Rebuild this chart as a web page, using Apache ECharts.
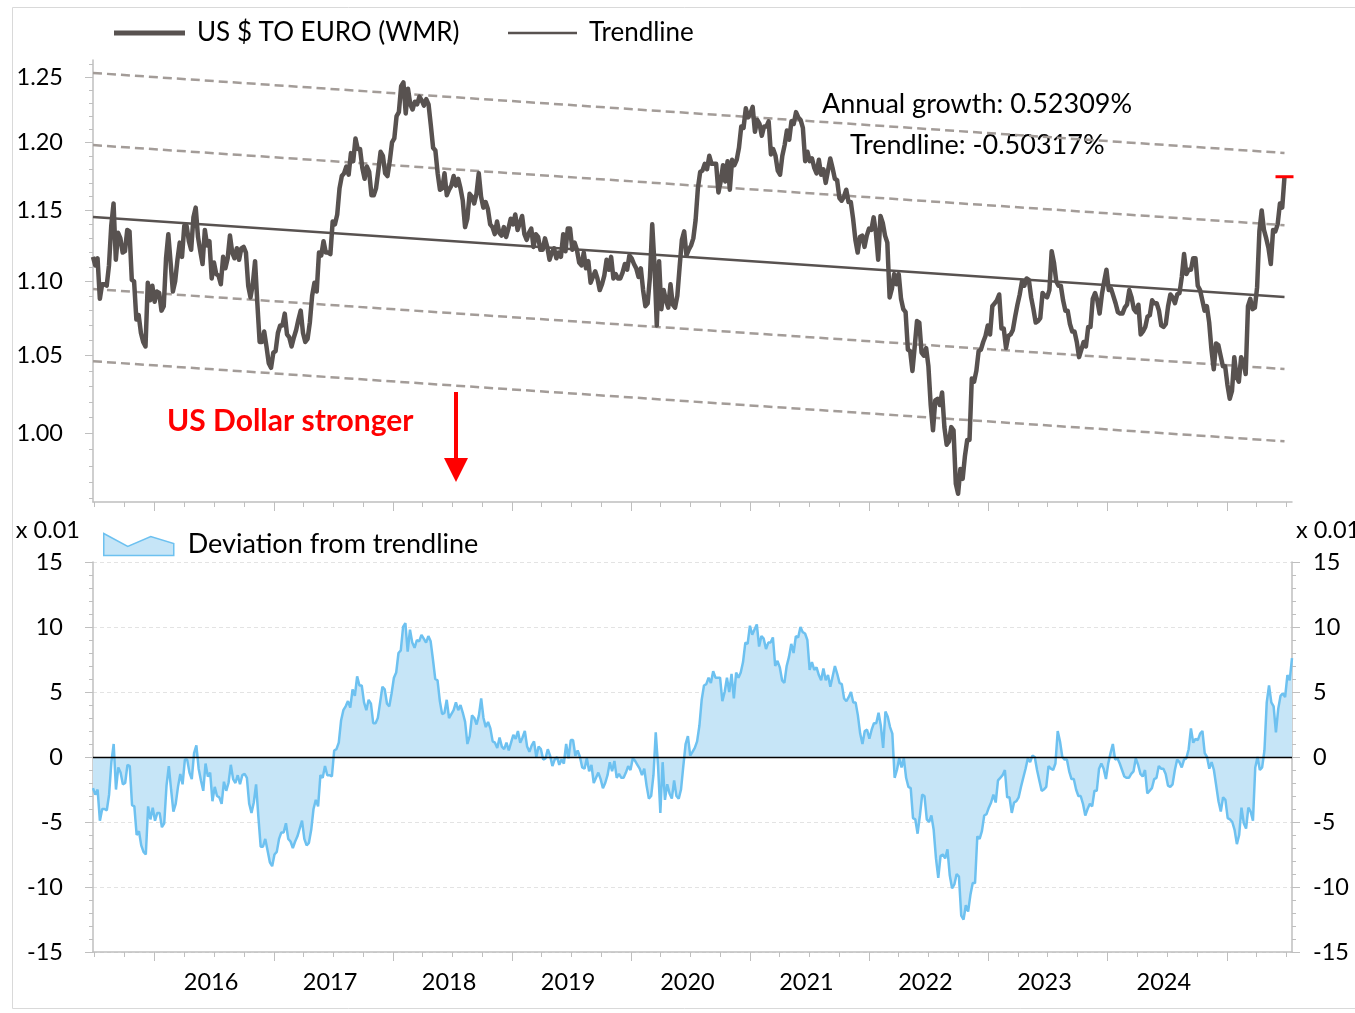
<!DOCTYPE html>
<html>
<head>
<meta charset="utf-8">
<title>US $ to Euro</title>
<script src="https://cdn.jsdelivr.net/npm/echarts@6/dist/echarts.min.js"></script>
<style>
  html, body { margin: 0; padding: 0; background: #fff; }
  #chart { width: 1355px; height: 1013px; }
</style>
</head>
<body>
<div id="chart"></div>
<script>
// weekly fixings, one array per year, first value on weekStart of that year
const weekStart = ['2015-06-26', '2016-01-01', '2017-01-06', '2018-01-05', '2019-01-04', '2020-01-03',
  '2021-01-01', '2022-01-07', '2023-01-06', '2024-01-05', '2025-01-03']

const usd2015 = [1.117, 1.111, 1.116, 1.088, 1.098, 1.098, 1.097, 1.111, 1.139, 1.155, 1.115, 1.134, 1.130, 1.120,
  1.121, 1.136, 1.135, 1.101, 1.100, 1.074, 1.077, 1.065, 1.059, 1.056, 1.099, 1.087, 1.097]
const usd2016 = [1.086, 1.093, 1.092, 1.080, 1.083, 1.116, 1.133, 1.113, 1.093, 1.100, 1.115, 1.127, 1.117,
  1.139, 1.139, 1.128, 1.122, 1.145, 1.152, 1.131, 1.121, 1.112, 1.136, 1.125, 1.128, 1.102,
  1.113, 1.105, 1.104, 1.098, 1.117, 1.109, 1.116, 1.132, 1.120, 1.116, 1.123, 1.115, 1.123, 1.124,
  1.120, 1.097, 1.089, 1.098, 1.114, 1.085, 1.059, 1.059, 1.066, 1.056, 1.045, 1.042, 1.052]
const usd2017 = [1.053, 1.065, 1.070, 1.070, 1.078, 1.064, 1.062, 1.056, 1.062, 1.067, 1.074, 1.080, 1.065,
  1.059, 1.061, 1.072, 1.090, 1.099, 1.093, 1.120, 1.118, 1.128, 1.120, 1.120, 1.119, 1.142,
  1.140, 1.147, 1.166, 1.175, 1.177, 1.182, 1.176, 1.192, 1.186, 1.203, 1.195, 1.195, 1.181,
  1.173, 1.182, 1.178, 1.161, 1.161, 1.166, 1.179, 1.193, 1.190, 1.177, 1.175, 1.186, 1.200]
const usd2018 = [1.203, 1.220, 1.223, 1.243, 1.246, 1.222, 1.241, 1.229, 1.225, 1.231, 1.229, 1.235, 1.232,
  1.228, 1.233, 1.229, 1.213, 1.196, 1.194, 1.177, 1.165, 1.166, 1.177, 1.161, 1.165, 1.168,
  1.175, 1.168, 1.173, 1.166, 1.157, 1.138, 1.144, 1.162, 1.160, 1.155, 1.162, 1.177, 1.160,
  1.152, 1.156, 1.151, 1.140, 1.138, 1.133, 1.142, 1.134, 1.132, 1.138, 1.131, 1.137, 1.144]
const usd2019 = [1.140, 1.147, 1.136, 1.141, 1.146, 1.133, 1.129, 1.134, 1.137, 1.124, 1.133, 1.131, 1.122,
  1.122, 1.130, 1.124, 1.115, 1.120, 1.123, 1.116, 1.120, 1.117, 1.133, 1.121, 1.137, 1.137,
  1.122, 1.127, 1.122, 1.113, 1.111, 1.120, 1.109, 1.114, 1.099, 1.103, 1.107, 1.102, 1.094,
  1.098, 1.104, 1.115, 1.108, 1.117, 1.102, 1.105, 1.102, 1.102, 1.106, 1.112, 1.108, 1.118]
const usd2020 = [1.116, 1.112, 1.109, 1.103, 1.109, 1.094, 1.083, 1.085, 1.103, 1.140, 1.111, 1.070, 1.114,
  1.081, 1.094, 1.087, 1.082, 1.098, 1.084, 1.082, 1.090, 1.110, 1.129, 1.135, 1.118, 1.122,
  1.125, 1.130, 1.143, 1.166, 1.178, 1.179, 1.184, 1.180, 1.190, 1.184, 1.184, 1.184, 1.163,
  1.171, 1.183, 1.171, 1.186, 1.165, 1.187, 1.183, 1.187, 1.196, 1.212, 1.211, 1.226, 1.219]
const usd2021 = [1.222, 1.227, 1.208, 1.217, 1.214, 1.205, 1.212, 1.212, 1.216, 1.191, 1.195, 1.190, 1.179,
  1.176, 1.190, 1.198, 1.209, 1.202, 1.216, 1.214, 1.223, 1.219, 1.217, 1.211, 1.186, 1.193,
  1.186, 1.188, 1.181, 1.177, 1.187, 1.176, 1.180, 1.170, 1.179, 1.188, 1.181, 1.173, 1.172,
  1.159, 1.157, 1.160, 1.165, 1.156, 1.156, 1.144, 1.129, 1.120, 1.131, 1.132, 1.124, 1.132, 1.137]
const usd2022 = [1.136, 1.145, 1.134, 1.115, 1.146, 1.141, 1.132, 1.127, 1.089, 1.095, 1.105, 1.098,
  1.105, 1.088, 1.081, 1.079, 1.054, 1.053, 1.040, 1.056, 1.073, 1.072, 1.052, 1.050, 1.055,
  1.043, 1.018, 1.002, 1.021, 1.022, 1.018, 1.026, 1.004, 0.993, 0.995, 1.004, 1.002, 0.969, 0.963,
  0.978, 0.972, 0.986, 0.996, 0.996, 1.035, 1.033, 1.040, 1.053, 1.054, 1.059, 1.063, 1.070]
const usd2023 = [1.064, 1.083, 1.085, 1.087, 1.091, 1.068, 1.068, 1.055, 1.063, 1.064, 1.067, 1.076, 1.084,
  1.091, 1.100, 1.097, 1.102, 1.101, 1.089, 1.081, 1.072, 1.073, 1.075, 1.092, 1.090, 1.089,
  1.094, 1.121, 1.113, 1.100, 1.097, 1.097, 1.087, 1.080, 1.080, 1.071, 1.066, 1.066, 1.059,
  1.049, 1.054, 1.059, 1.056, 1.069, 1.069, 1.088, 1.092, 1.087, 1.078, 1.091, 1.100, 1.108]
const usd2024 = [1.094, 1.095, 1.090, 1.085, 1.079, 1.078, 1.078, 1.082, 1.084, 1.094, 1.089, 1.081, 1.079,
  1.084, 1.064, 1.066, 1.069, 1.076, 1.077, 1.087, 1.085, 1.085, 1.080, 1.070, 1.069, 1.071,
  1.083, 1.091, 1.089, 1.085, 1.091, 1.092, 1.103, 1.119, 1.105, 1.108, 1.108, 1.116, 1.116,
  1.097, 1.094, 1.087, 1.080, 1.083, 1.072, 1.054, 1.041, 1.058, 1.057, 1.050, 1.043, 1.043]
const usd2025 = [1.031, 1.022, 1.027, 1.049, 1.036, 1.033, 1.049, 1.046, 1.038, 1.083, 1.088, 1.081, 1.082,
  1.096, 1.135, 1.150, 1.136, 1.130, 1.123, 1.112, 1.136, 1.135, 1.140, 1.155, 1.152, 1.1745]

// deviation from trendline (x 0.01); in the lower panel the weekly points span the whole axis
const dev2015 = [-2.4, -2.9, -2.5, -4.9, -4.0, -4.0, -4.1, -2.9, -0.4, 1.0, -2.5, -0.8, -1.2, -2.1,
  -2.0, -0.6, -0.7, -3.7, -3.8, -6.0, -5.7, -6.8, -7.3, -7.5, -3.8, -4.8, -3.9]
const dev2016 = [-4.9, -4.3, -4.3, -5.4, -5.1, -2.2, -0.7, -2.5, -4.2, -3.6, -2.3, -1.3, -2.1,
  -0.2, -0.2, -1.2, -1.7, 0.3, 0.9, -0.9, -1.8, -2.6, -0.5, -1.5, -1.2, -3.4,
  -2.3, -3.0, -3.1, -3.6, -1.9, -2.6, -2.0, -0.6, -1.7, -2.0, -1.4, -2.1, -1.4, -1.3,
  -1.6, -3.6, -4.3, -3.5, -2.1, -4.6, -6.9, -6.9, -6.3, -7.2, -8.1, -8.4, -7.5]
const dev2017 = [-7.3, -6.3, -5.8, -5.8, -5.1, -6.3, -6.5, -7.0, -6.5, -6.1, -5.5, -4.9, -6.3,
  -6.8, -6.6, -5.6, -4.0, -3.3, -3.8, -1.4, -1.6, -0.7, -1.4, -1.4, -1.5, 0.5,
  0.6, 1.1, 2.8, 3.6, 3.9, 4.3, 3.8, 5.2, 4.7, 6.2, 5.5, 5.5, 4.2,
  3.6, 4.4, 4.1, 2.6, 2.6, 3.0, 4.2, 5.4, 5.2, 4.1, 3.9, 4.9, 6.1]
const dev2018 = [6.5, 8.0, 8.2, 10.0, 10.3, 8.1, 9.8, 8.8, 8.4, 9.0, 8.9, 9.4, 9.1,
  8.8, 9.3, 8.9, 7.5, 6.0, 5.9, 4.3, 3.3, 3.4, 4.4, 3.0, 3.3, 3.6,
  4.2, 3.6, 4.0, 3.4, 2.7, 1.0, 1.6, 3.2, 3.0, 2.5, 3.2, 4.5, 3.0,
  2.3, 2.7, 2.2, 1.2, 1.1, 0.7, 1.5, 0.8, 0.6, 1.1, 0.5, 1.1, 1.7]
const dev2019 = [1.4, 2.0, 1.1, 1.5, 2.0, 0.8, 0.4, 0.9, 1.2, 0.0, 0.8, 0.6, -0.2,
  -0.1, 0.6, 0.1, -0.7, -0.2, 0.0, -0.6, -0.2, -0.5, 1.0, -0.1, 1.3, 1.3,
  0.1, 0.5, 0.0, -0.8, -0.9, -0.1, -1.1, -0.6, -2.0, -1.6, -1.2, -1.7, -2.4,
  -2.0, -1.4, -0.4, -1.1, -0.3, -1.6, -1.3, -1.6, -1.6, -1.2, -0.7, -1.0, -0.1]
const dev2020 = [-0.3, -0.6, -0.9, -1.4, -0.9, -2.2, -3.2, -3.0, -1.4, 1.9, -0.7, -4.3, -0.4,
  -3.3, -2.1, -2.8, -3.2, -1.8, -3.0, -3.2, -2.5, -0.7, 1.0, 1.6, 0.1, 0.4,
  0.7, 1.2, 2.4, 4.4, 5.5, 5.6, 6.1, 5.7, 6.6, 6.1, 6.1, 6.1, 4.3,
  5.0, 6.1, 5.0, 6.4, 4.5, 6.5, 6.1, 6.5, 7.3, 8.8, 8.7, 10.1, 9.4]
const dev2021 = [9.8, 10.2, 8.5, 9.3, 9.1, 8.3, 8.8, 8.8, 9.2, 7.0, 7.4, 6.9, 5.9,
  5.7, 7.0, 7.7, 8.7, 8.0, 9.3, 9.2, 10.0, 9.6, 9.5, 9.0, 6.7, 7.3,
  6.7, 6.9, 6.3, 5.9, 6.8, 5.9, 6.3, 5.4, 6.2, 7.0, 6.4, 5.7, 5.6,
  4.5, 4.3, 4.6, 5.0, 4.2, 4.2, 3.2, 1.8, 1.0, 2.0, 2.1, 1.4, 2.1, 2.6]
const dev2022 = [2.6, 3.4, 2.4, 0.7, 3.5, 3.1, 2.3, 1.8, -1.6, -1.0, -0.1, -0.8,
  -0.1, -1.6, -2.3, -2.4, -4.7, -4.8, -5.9, -4.5, -2.9, -3.0, -4.8, -5.0, -4.5,
  -5.6, -7.8, -9.3, -7.6, -7.5, -7.8, -7.1, -9.1, -10.1, -9.8, -9.0, -9.2, -12.2, -12.5,
  -11.4, -11.9, -10.6, -9.7, -9.7, -6.1, -6.3, -5.7, -4.5, -4.4, -3.9, -3.5, -2.9]
const dev2023 = [-3.5, -1.8, -1.6, -1.4, -1.0, -3.1, -3.1, -4.3, -3.5, -3.4, -3.1, -2.3, -1.6,
  -0.9, -0.1, -0.4, 0.1, 0.0, -1.0, -1.8, -2.6, -2.5, -2.3, -0.7, -0.9, -1.0,
  -0.5, 2.0, 1.2, 0.0, -0.2, -0.2, -1.1, -1.7, -1.7, -2.5, -3.0, -3.0, -3.6,
  -4.5, -4.0, -3.6, -3.8, -2.6, -2.6, -0.9, -0.5, -0.9, -1.7, -0.5, 0.3, 1.0]
const dev2024 = [-0.2, -0.1, -0.5, -1.0, -1.5, -1.6, -1.6, -1.3, -1.1, -0.1, -0.6, -1.3, -1.5,
  -1.0, -2.8, -2.6, -2.4, -1.7, -1.6, -0.7, -0.9, -0.9, -1.3, -2.2, -2.3, -2.1,
  -1.0, -0.2, -0.4, -0.8, -0.2, -0.1, 0.6, 2.2, 1.1, 1.4, 1.3, 1.8, 2.0,
  0.3, 0.0, -0.9, -0.4, -1.0, -2.2, -3.4, -4.2, -3.1, -3.3, -4.7, -4.8, -5.0]
const dev2025 = [-5.6, -6.7, -6.0, -3.9, -5.1, -5.5, -3.9, -4.2, -4.9, -0.8, 0.0, -1.0, -0.8,
  0.5, 4.2, 5.5, 4.2, 3.9, 1.9, 3.7, 4.7, 4.9, 4.6, 6.3, 5.9, 7.6]

// trendline and the dashed bands, value at first and last week
const trendDates = ['2015-06-26', '2025-06-27']
const trendline = [1.1452, 1.0892]
const upperOuter = [1.2534, 1.1921]
const upperInner = [1.1980, 1.1394]
const lowerInner = [1.0947, 1.0412]
const lowerOuter = [1.0463, 0.9951]

const priceTicks = [1.00, 1.05, 1.10, 1.15, 1.20, 1.25]
const devTicks = [-15, -10, -5, 0, 5, 10, 15]
const yearLabels = [2016, 2017, 2018, 2019, 2020, 2021, 2022, 2023, 2024]

const FONT = 'Lato'
const AXIS_GREY = '#bfbfbf'
const PRICE_COLOR = '#585250'
const BAND_COLOR = '#a39c98'
const DEV_LINE = '#6dc1f0'
const DEV_FILL = '#c6e5f7'

const DAY = 864e5
const toTime = s => Date.parse(s + 'T00:00:00Z')
const xMin = toTime('2015-06-26')
const xMax = toTime('2025-07-20')
// log price axis: values are plotted on ln scale
const yMin = Math.log(0.958)
const yMax = Math.log(1.2636)

const usdYears = [usd2015, usd2016, usd2017, usd2018, usd2019, usd2020, usd2021, usd2022, usd2023, usd2024, usd2025]
const devYears = [dev2015, dev2016, dev2017, dev2018, dev2019, dev2020, dev2021, dev2022, dev2023, dev2024, dev2025]

const priceData = []
usdYears.forEach((vals, k) => {
  const t0 = toTime(weekStart[k])
  vals.forEach((v, i) => priceData.push([t0 + i * 7 * DAY, Math.log(v)]))
})
const lastPoint = priceData[priceData.length - 1]

// lower panel: same weeks, spread from first to last date of the axis
const devValues = [].concat(...devYears)
const devStep = (xMax - xMin) / (devValues.length - 1)
const devData = devValues.map((v, i) => [xMin + i * devStep, v])

const twoPoint = vals => trendDates.map((d, i) => [toTime(d), Math.log(vals[i])])

// tick positions
const quarterTicks = []
const yearTicks = []
for (let y = 2015; y <= 2025; y++) {
  for (let m = 0; m < 12; m += 3) {
    const t = Date.UTC(y, m, 1)
    if (t >= xMin && t <= xMax) {
      quarterTicks.push(t)
      if (m === 0) yearTicks.push(t)
    }
  }
}
const yearLabelPos = yearLabels.map(y => Date.UTC(y, 5, 22))
const minorPrice = []
for (let v = 96; v <= 126; v++) minorPrice.push(Math.log(v / 100))

// dates kept as plain timestamps on a value axis
const xAxisFor = (gridIndex, ticks, tickLen, showLine, label) => ({
  type: 'value', gridIndex, position: 'bottom', min: xMin, max: xMax,
  axisLine: { show: showLine, onZero: false, lineStyle: { color: AXIS_GREY, width: 1.5 } },
  axisTick: { show: true, customValues: ticks, length: tickLen, lineStyle: { color: AXIS_GREY } },
  axisLabel: label || { show: false },
  splitLine: { show: false },
  axisPointer: { show: false }
})

const chart = echarts.init(document.getElementById('chart'))

const option = {
  animation: false,
  backgroundColor: '#fff',
  textStyle: { fontFamily: FONT },
  grid: [
    { left: 93, right: 63, top: 60, bottom: 511, outerBoundsMode: 'none' },
    { left: 93, right: 63, top: 562, bottom: 61, outerBoundsMode: 'none' }
  ],
  xAxis: [
    xAxisFor(0, quarterTicks, 5, true),
    xAxisFor(0, yearTicks, 9, false),
    xAxisFor(1, quarterTicks, 5, true, {
      show: true, customValues: yearLabelPos, margin: 18,
      color: '#000', fontSize: 23.5, fontFamily: FONT,
      formatter: v => String(new Date(v).getUTCFullYear())
    }),
    xAxisFor(1, yearTicks, 9, false)
  ],
  yAxis: [
    {
      type: 'value', gridIndex: 0, position: 'left', min: yMin, max: yMax,
      axisLine: { show: true, onZero: false, lineStyle: { color: AXIS_GREY, width: 1.5 } },
      axisTick: { show: true, customValues: priceTicks.map(Math.log), length: 8, lineStyle: { color: AXIS_GREY } },
      axisLabel: {
        show: true, customValues: priceTicks.map(Math.log), margin: 30,
        color: '#000', fontSize: 23.5, fontFamily: FONT,
        formatter: v => Math.exp(v).toFixed(2)
      },
      splitLine: { show: false }
    },
    {
      type: 'value', gridIndex: 0, position: 'left', offset: 0, min: yMin, max: yMax,
      axisLine: { show: false, onZero: false },
      axisTick: { show: true, customValues: minorPrice, length: 4, lineStyle: { color: AXIS_GREY } },
      axisLabel: { show: false },
      splitLine: { show: false }
    },
    {
      type: 'value', gridIndex: 1, position: 'left', min: -15, max: 15, interval: 5,
      axisLine: { show: true, onZero: false, lineStyle: { color: AXIS_GREY, width: 1.5 } },
      axisTick: { show: true, length: 8, lineStyle: { color: AXIS_GREY } },
      minorTick: { show: true, splitNumber: 5, length: 4, lineStyle: { color: AXIS_GREY } },
      axisLabel: { show: true, margin: 30, color: '#000', fontSize: 23.5, fontFamily: FONT },
      splitLine: { show: true, lineStyle: { color: '#e3e3e3', type: [4, 3], width: 1 } }
    },
    {
      type: 'value', gridIndex: 1, position: 'right', min: -15, max: 15, interval: 5,
      axisLine: { show: true, onZero: false, lineStyle: { color: AXIS_GREY, width: 1.5 } },
      axisTick: { show: true, length: 8, lineStyle: { color: AXIS_GREY } },
      minorTick: { show: true, splitNumber: 5, length: 4, lineStyle: { color: AXIS_GREY } },
      axisLabel: { show: true, margin: 21, color: '#000', fontSize: 23.5, fontFamily: FONT },
      splitLine: { show: false }
    }
  ],
  legend: [
    {
      data: ['US $ TO EURO (WMR)'], left: 114, top: 20, padding: 0, icon: 'rect',
      itemWidth: 71, itemHeight: 5, selectedMode: false,
      textStyle: { fontSize: 26, color: '#000', fontFamily: FONT, padding: [0, 0, 0, 7] }
    },
    {
      data: ['Trendline'], left: 508, top: 20, padding: 0, icon: 'rect',
      itemWidth: 69, itemHeight: 2.5, selectedMode: false,
      textStyle: { fontSize: 26, color: '#000', fontFamily: FONT, padding: [0, 0, 0, 7] }
    },
    {
      data: [{
        name: 'Deviation from trendline',
        icon: 'path://M0,0 L24,13 L47,3 L70,10 L70,22 L0,22 Z',
        itemStyle: { color: DEV_FILL, borderColor: DEV_LINE, borderWidth: 1.5 }
      }],
      left: 103, top: 531, padding: 0, itemWidth: 70, itemHeight: 22, selectedMode: false,
      textStyle: { fontSize: 27, color: '#000', fontFamily: FONT, padding: [0, 0, 0, 9] }
    }
  ],
  series: [
    {
      name: 'Upper outer', type: 'line', xAxisIndex: 0, yAxisIndex: 0, data: twoPoint(upperOuter),
      showSymbol: false, silent: true, lineStyle: { color: BAND_COLOR, width: 2.5, type: [9, 5] }, z: 1
    },
    {
      name: 'Upper inner', type: 'line', xAxisIndex: 0, yAxisIndex: 0, data: twoPoint(upperInner),
      showSymbol: false, silent: true, lineStyle: { color: BAND_COLOR, width: 2.5, type: [9, 5] }, z: 1
    },
    {
      name: 'Lower inner', type: 'line', xAxisIndex: 0, yAxisIndex: 0, data: twoPoint(lowerInner),
      showSymbol: false, silent: true, lineStyle: { color: BAND_COLOR, width: 2.5, type: [9, 5] }, z: 1
    },
    {
      name: 'Lower outer', type: 'line', xAxisIndex: 0, yAxisIndex: 0, data: twoPoint(lowerOuter),
      showSymbol: false, silent: true, lineStyle: { color: BAND_COLOR, width: 2.5, type: [9, 5] }, z: 1
    },
    {
      name: 'US $ TO EURO (WMR)', type: 'line', xAxisIndex: 0, yAxisIndex: 0, data: priceData,
      showSymbol: false, color: PRICE_COLOR,
      itemStyle: { color: PRICE_COLOR },
      lineStyle: { color: PRICE_COLOR, width: 4.5, join: 'round' }, z: 3,
      markPoint: {
        silent: true, symbol: 'rect', symbolSize: [18, 3],
        itemStyle: { color: '#ff0000' }, label: { show: false },
        data: [{ coord: lastPoint }]
      }
    },
    {
      name: 'Trendline', type: 'line', xAxisIndex: 0, yAxisIndex: 0, data: twoPoint(trendline),
      showSymbol: false, color: PRICE_COLOR, itemStyle: { color: PRICE_COLOR },
      lineStyle: { color: PRICE_COLOR, width: 2.5 }, z: 4
    },
    {
      name: 'Deviation from trendline', type: 'line', xAxisIndex: 2, yAxisIndex: 2, data: devData,
      showSymbol: false, color: DEV_LINE,
      lineStyle: { color: DEV_LINE, width: 2.5 },
      areaStyle: { color: DEV_FILL, opacity: 1, origin: 0 },
      markLine: {
        silent: true, symbol: 'none', label: { show: false },
        lineStyle: { color: '#000', width: 1.3, type: 'solid' },
        data: [{ yAxis: 0 }]
      }
    }
  ],
  graphic: [
    {
      type: 'rect', silent: true, z: -10,
      shape: { x: 12.5, y: 7.5, width: 1400, height: 1001 },
      style: { fill: 'none', stroke: '#d9d9d9', lineWidth: 1 }
    },
    {
      type: 'text', x: 822, y: 104, silent: true,
      style: { text: 'Annual growth: 0.52309%', font: '27px ' + FONT, fill: '#000', textVerticalAlign: 'middle', verticalAlign: 'middle' }
    },
    {
      type: 'text', x: 850, y: 145, silent: true,
      style: { text: 'Trendline: -0.50317%', font: '27px ' + FONT, fill: '#000', textVerticalAlign: 'middle', verticalAlign: 'middle' }
    },
    {
      type: 'text', x: 167, y: 421, silent: true,
      style: { text: 'US Dollar stronger', font: 'bold 30px ' + FONT, fill: '#ff0000', textVerticalAlign: 'middle', verticalAlign: 'middle' }
    },
    {
      type: 'line', silent: true,
      shape: { x1: 456, y1: 392, x2: 456, y2: 462 },
      style: { stroke: '#ff0000', lineWidth: 4 }
    },
    {
      type: 'polygon', silent: true,
      shape: { points: [[444, 458], [468, 458], [456, 482]] },
      style: { fill: '#ff0000' }
    },
    {
      type: 'text', x: 80, y: 530, silent: true,
      style: { text: 'x 0.01', font: '23.5px ' + FONT, fill: '#000', textAlign: 'right', align: 'right', textVerticalAlign: 'middle', verticalAlign: 'middle' }
    },
    {
      type: 'text', x: 1296, y: 530, silent: true,
      style: { text: 'x 0.01', font: '23.5px ' + FONT, fill: '#000', textVerticalAlign: 'middle', verticalAlign: 'middle' }
    }
  ]
}

chart.setOption(option)
</script>
</body>
</html>
